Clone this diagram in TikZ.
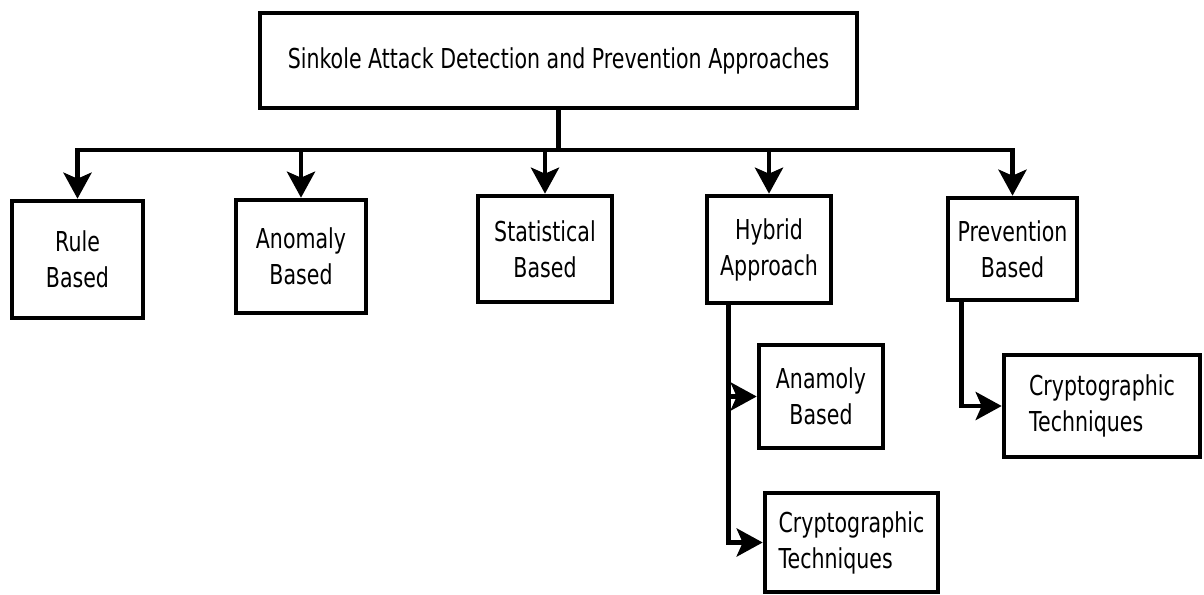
\documentclass[tikz,border=0pt]{standalone}
\usepackage{fontspec}
\setmainfont{DejaVu Sans}[FakeStretch=0.75]
\usetikzlibrary{arrows.meta}
\newcommand{\boxline}{2.3pt}
\newcommand{\linkline}{2.4pt}
\tikzset{
    common/.style={draw, rectangle, line width=\boxline, inner sep=0pt,
        font=\fontsize{13.7}{18}\selectfont},
    boxsize/.style 2 args={minimum width=#1*0.5pt, minimum height=#2*0.5pt},
    item/.style={common, align=center},
    leaf/.style={common, align=left},
    link/.style={line width=\linkline, line cap=rect},
    arrow/.style={link, -{Stealth[length=13pt, width=14pt, inset=3pt]}}
}
\begin{document}
\begin{tikzpicture}[x=0.5pt, y=-0.5pt]
    \useasboundingbox (0,0) rectangle (1204,594);

    \node[item, boxsize={597}{95}] (approaches) at (558.5,60.5)
        {Sinkole Attack Detection and Prevention Approaches};

    \node[item, boxsize={131}{117}] (rule) at (77.5,259.5) {Rule\\Based};
    \node[item, boxsize={130}{113}] (anomaly) at (301,256.5) {Anomaly\\Based};
    \node[item, boxsize={134}{106}] (statistical) at (545,249) {Statistical\\Based};
    \node[item, boxsize={124}{107}] (hybrid) at (769,249.5) {Hybrid\\Approach};
    \node[item, boxsize={129}{102}] (prevention) at (1012.5,249) {Prevention\\Based};

    \node[item, boxsize={124}{103}] (hy-anomaly) at (821,396.5) {Anamoly\\Based};
    \node[leaf, boxsize={173}{99}] (hy-crypto) at (851.5,542.5) {Cryptographic\\Techniques};
    \node[leaf, boxsize={196}{102}] (pv-crypto) at (1102,406) {Cryptographic\\Techniques};

    % bus under the top box
    \coordinate (bus) at (0,150);
    \draw[link] (approaches.south) -- (approaches.south |- bus);
    \draw[link] (rule.north |- bus) -- (prevention.north |- bus);
    \foreach \n in {rule, anomaly, statistical, hybrid, prevention}
        \draw[arrow] (\n.north |- bus) -- (\n.north);

    % hybrid branches
    \coordinate (hy-stem) at ([xshift=12pt]hybrid.south west);
    \draw[arrow] (hy-stem) |- (hy-crypto.west);
    \draw[arrow] (hy-stem |- hy-anomaly.west) -- (hy-anomaly.west);

    % prevention branch
    \coordinate (pv-stem) at ([xshift=8pt]prevention.south west);
    \draw[arrow] (pv-stem) |- (pv-crypto.west);
\end{tikzpicture}
\end{document}
